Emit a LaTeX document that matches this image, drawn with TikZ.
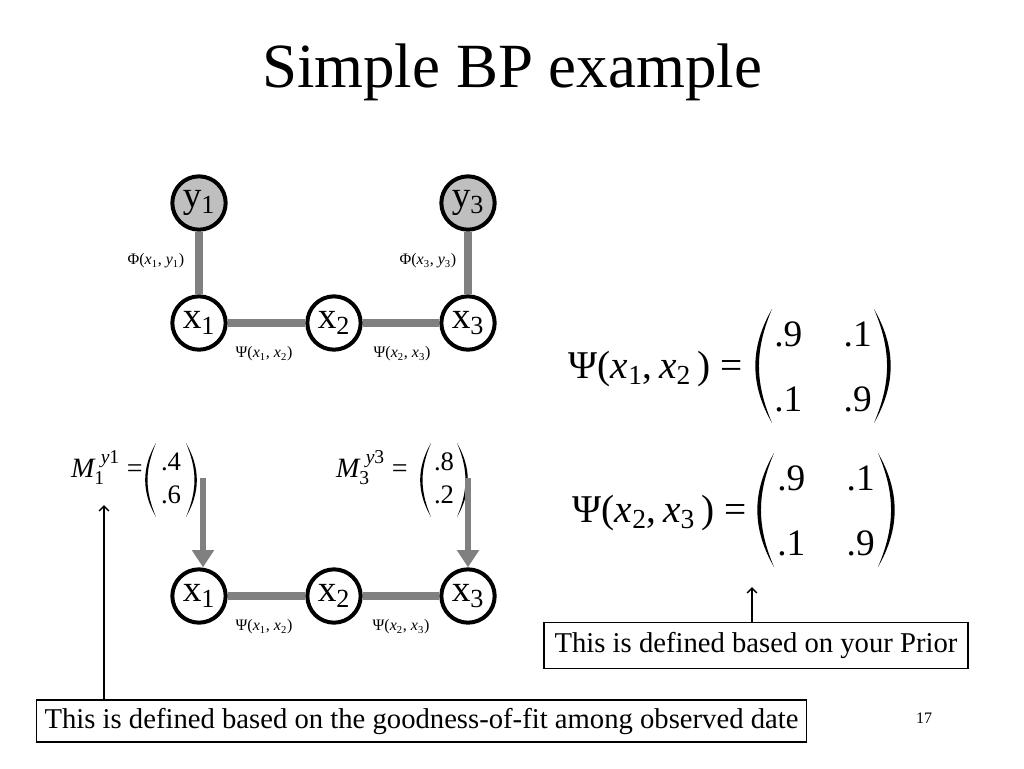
\documentclass[tikz,border=0pt]{standalone}
\usepackage{amsmath}
\usepackage{fontspec}
\setmainfont{Liberation Serif}
\usepackage{tikz}
\usetikzlibrary{arrows.meta}
\usetikzlibrary{backgrounds}
\tikzset{>=Straight Barb}
\colorlet{edgecol}{black!50}
\colorlet{obscol}{black!25}
\tikzstyle{var}=[circle,draw,line width=3pt,fill=white,minimum size=40pt,inner sep=0pt,font=\fontsize{28}{30}\selectfont]
\tikzstyle{obs}=[var,fill=obscol]
\tikzstyle{pot}=[edgecol,line width=6pt]
\tikzstyle{msg}=[edgecol,line width=5pt,-{Triangle[length=13pt,width=16pt]}]
\tikzstyle{lbl}=[font=\fontsize{12}{14}\selectfont,inner sep=1pt]
\tikzstyle{eqn}=[anchor=base east,inner sep=0pt,font=\fontsize{29.5}{31}\selectfont]
\tikzstyle{mat}=[inner sep=0pt,font=\fontsize{28}{49}\selectfont]
\tikzstyle{vec}=[inner sep=0pt,font=\fontsize{20}{25}\selectfont]
\tikzstyle{note}=[draw,line width=0.8pt,inner sep=0pt,font=\fontsize{21.5}{24}\selectfont]
\newcommand{\vx}[2]{\textit{#1}\textsubscript{#2}}
% tapered parentheses round a node: #1 node, #2 half width at the ends, #3 half height
\newcommand{\parens}[3]{%
  \fill ([shift={(-#2,-#3)}]#1.center) to[bend right=30] ([shift={(-#2,#3)}]#1.center)
    to[bend left=23] ([shift={(-#2,-#3)}]#1.center) -- cycle;
  \fill ([shift={(#2,-#3)}]#1.center) to[bend left=30] ([shift={(#2,#3)}]#1.center)
    to[bend right=23] ([shift={(#2,-#3)}]#1.center) -- cycle;}

\begin{document}
\begin{tikzpicture}[x=0.75pt,y=-0.75pt]
    \useasboundingbox (0,0) rectangle (1024,768);
    \def\xa{199}
    \def\xb{334}
    \def\xc{468}
    \def\ya{203} % observed row
    \def\yb{323} % hidden row, top graph
    \def\yc{596} % hidden row, bottom graph
    \node[anchor=base,font=\fontsize{47.2}{50}\selectfont] (title) at (512,87) {Simple BP example};

    % top graph
    \node[obs] (y1) at (\xa,\ya) {y\textsubscript{1}};
    \node[obs] (y3) at (\xc,\ya) {y\textsubscript{3}};
    \node[var] (x1) at (\xa,\yb) {x\textsubscript{1}};
    \node[var] (x2) at (\xb,\yb) {x\textsubscript{2}};
    \node[var] (x3) at (\xc,\yb) {x\textsubscript{3}};
    \begin{scope}[on background layer]
      \draw[pot] (y1) -- (x1);
      \draw[pot] (y3) -- (x3);
      \draw[pot] (x1) -- (x2);
      \draw[pot] (x2) -- (x3);
    \end{scope}
    \node[lbl] (phi1) at (156,261) {Φ(\vx{x}{1}, \vx{y}{1})};
    \node[lbl] (phi3) at (428,261) {Φ(\vx{x}{3}, \vx{y}{3})};
    \node[lbl] (psi12) at (264,354) {Ψ(\vx{x}{1}, \vx{x}{2})};
    \node[lbl] (psi23) at (402,354) {Ψ(\vx{x}{2}, \vx{x}{3})};

    % bottom graph
    \node[var] (x1b) at (\xa,\yc) {x\textsubscript{1}};
    \node[var] (x2b) at (\xb,\yc) {x\textsubscript{2}};
    \node[var] (x3b) at (\xc,\yc) {x\textsubscript{3}};
    \begin{scope}[on background layer]
      \draw[pot] (x1b) -- (x2b);
      \draw[pot] (x2b) -- (x3b);
    \end{scope}
    \node[lbl] (psi12b) at (264,627) {Ψ(\vx{x}{1}, \vx{x}{2})};
    \node[lbl] (psi23b) at (401,627) {Ψ(\vx{x}{2}, \vx{x}{3})};

    % messages from the observations
    \node[eqn,font=\fontsize{21}{24}\selectfont] (m1) at (143,477)
      {$\textit{M}{}_{\text{1}}^{\,\,\textit{y}\text{1}}$ =};
    \node[vec] (v1) at (171,480) {\begin{tabular}{@{}c@{}}.4\\.6\end{tabular}};
    \parens{v1}{15}{37}
    \node[eqn,font=\fontsize{21}{24}\selectfont] (m3) at (408,477)
      {$\textit{M}{}_{\text{3}}^{\,\,\textit{y}\text{3}}$ =};
    \node[vec] (v3) at (444,480) {\begin{tabular}{@{}c@{}}.8\\.2\end{tabular}};
    \parens{v3}{13}{37}
    \coordinate (m1s) at (203,478);
    \coordinate (m3s) at (468,478);
    \draw[msg] (m1s) -- (m1s |- x1b.north);
    \draw[msg] (m3s) -- (m3s |- x3b.north);

    % pairwise potentials
    \node[eqn] (pa) at (743,378) {Ψ(\vx{x}{1},\,\vx{x}{2}\,) =};
    \node[mat] (pam) at (823,366) {\begin{tabular}{@{}c@{\hspace{31pt}}c@{}}.9&.1\\.1&.9\end{tabular}};
    \parens{pam}{51}{57}
    \node[eqn] (pb) at (747,522) {Ψ(\vx{x}{2},\,\vx{x}{3}\,) =};
    \node[mat] (pbm) at (826,510) {\begin{tabular}{@{}c@{\hspace{31pt}}c@{}}.9&.1\\.1&.9\end{tabular}};
    \parens{pbm}{52}{57}

    % notes
    \node[note,minimum width=577pt,minimum height=31.5pt] (note1) at (421.5,721)
      {This is defined based on the goodness-of-fit among observed date};
    \node[note,minimum width=318pt,minimum height=34pt] (note2) at (756,645.5)
      {This is defined based on your Prior};
    \coordinate (m1tip) at (104,505);
    \coordinate (ptip) at (752,587);
    \draw[->,line width=1.1pt] (note1.north -| m1tip) -- (m1tip);
    \draw[->,line width=1.1pt] (note2.north -| ptip) -- (ptip);

    \node[font=\fontsize{12}{14}\selectfont] (page) at (924,718) {17};
\end{tikzpicture}
\end{document}
